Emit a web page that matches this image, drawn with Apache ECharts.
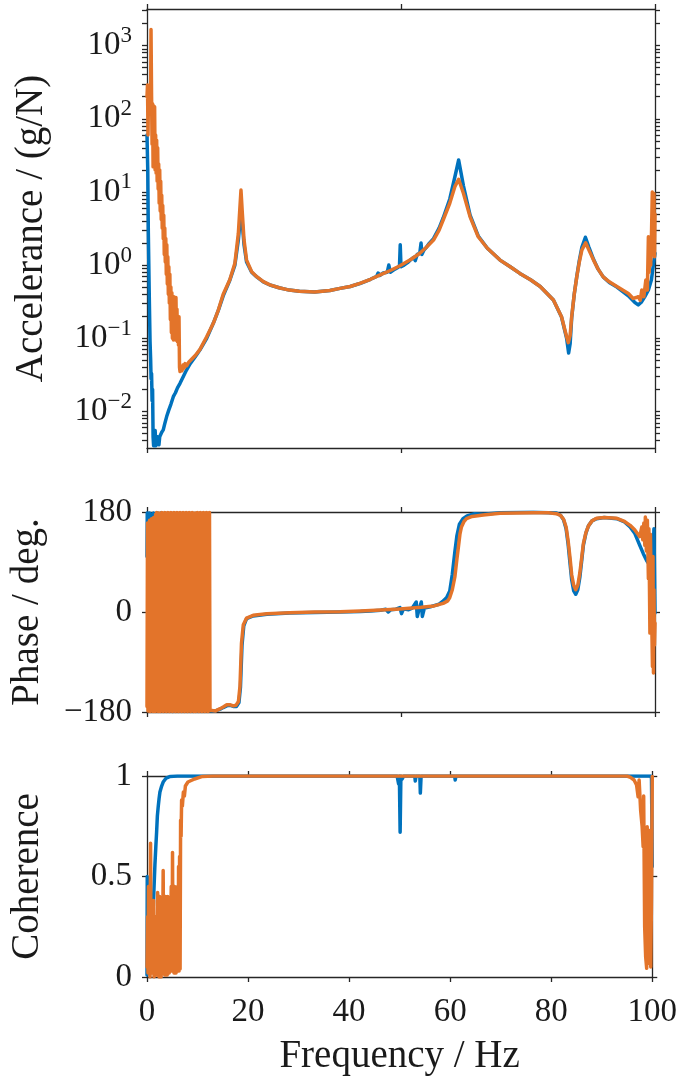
<!DOCTYPE html>
<html><head><meta charset="utf-8">
<script src="https://cdn.jsdelivr.net/npm/echarts@6/dist/echarts.min.js"></script>
<style>html,body{margin:0;padding:0;background:#fff}#c{width:680px;height:1081px}</style>
</head><body><div id="c"></div>
<script>
// ---------- tick values ----------
const freqTicksTop = [0, 50, 100];
const freqTicksBottom = [0, 20, 40, 60, 80, 100];
const magMajorTicks = [0.01, 0.1, 1, 10, 100, 1000];
const magMinorTicks = [0.004,0.005,0.006,0.007,0.008,0.009,
  0.02,0.03,0.04,0.05,0.06,0.07,0.08,0.09,
  0.2,0.3,0.4,0.5,0.6,0.7,0.8,0.9,
  2,3,4,5,6,7,8,9, 20,30,40,50,60,70,80,90,
  200,300,400,500,600,700,800,900, 2000,3000];
const phaseTicks = [-180, 0, 180];
const cohTicks = [0, 0.5, 1];

// ---------- data: [frequency Hz, value] ----------
const magBlue = [[0,60],[0.15,20],[0.26,2.8],[0.46,0.33],[0.6,0.09],[0.72,0.05],[0.8,0.028],[0.9,0.033],[1.0,0.014],[1.1,0.02],[1.2,0.0045],[1.3,0.0034],[1.45,0.0036],[1.6,0.0055],[1.75,0.0034],[1.9,0.0032],[2.05,0.0045],[2.2,0.0038],[2.35,0.0035],[2.5,0.0045],[2.7,0.0043],[2.9,0.0052],[3.2,0.0056],[3.5,0.0068],[3.87,0.0085],[4.3,0.0105],[4.7,0.0125],[5.18,0.0159],[5.6,0.018],[6.0,0.021],[6.5,0.0242],[7.2,0.0305],[7.8,0.037],[8.5,0.045],[9.5,0.056],[10.4,0.069],[11.75,0.1],[13.05,0.16],[14.04,0.24],[15.0,0.38],[16.3,0.62],[17.3,1.0],[17.98,2.2],[18.3,3.8],[18.5,4.6],[18.77,3.6],[19.1,1.9],[19.6,1.1],[20.6,0.8],[21.6,0.69],[22.9,0.59],[24.2,0.535],[26,0.49],[28,0.455],[30,0.44],[33,0.43],[36,0.45],[38,0.48],[40,0.51],[41.9,0.56],[44,0.64],[45.2,0.7],[45.5,0.78],[45.8,0.72],[46.5,0.78],[47.3,0.8],[47.6,1.0],[47.9,0.8],[48.6,0.86],[49.3,0.92],[49.7,0.96],[49.85,1.9],[50.0,0.95],[50.6,1.0],[51.3,1.08],[52,1.2],[52.5,1.28],[52.8,1.15],[53.2,1.4],[53.7,1.45],[53.95,2.0],[54.1,1.4],[54.5,1.6],[55,1.75],[55.6,2.0],[56.4,2.3],[57.5,3.2],[58.3,4.4],[59.6,8.0],[60.6,16],[61.35,27.3],[62.3,12],[63.6,4.8],[65.2,2.5],[67,1.7],[69.5,1.17],[71.5,0.95],[73.4,0.77],[75.5,0.63],[77.4,0.51],[80,0.333],[81.6,0.195],[82.6,0.1],[83.0,0.063],[83.3,0.085],[83.6,0.19],[84.1,0.4],[84.6,0.7],[85.1,1.15],[85.6,1.75],[86.3,2.4],[87.0,1.75],[87.9,1.2],[88.8,0.88],[89.8,0.69],[91,0.58],[92.5,0.5],[94.75,0.38],[96,0.31],[96.7,0.285],[97.3,0.31],[98,0.37],[98.7,0.457],[99.3,0.63],[99.8,1.17],[100,1.45]];

const magOrange = [[0,200],[0.1,289],[0.2,60],[0.3,250],[0.45,120],[0.6,280],[0.7,150],[0.79,1660],[0.9,200],[1.0,45],[1.1,160],[1.2,22],[1.3,150],[1.4,25],[1.5,146],[1.6,20],[1.7,60],[1.8,18],[1.9,51],[2.0,14],[2.1,40],[2.2,11],[2.3,24],[2.4,7],[2.5,20],[2.6,5.5],[2.7,14],[2.8,4.2],[2.9,9],[3.0,3.2],[3.1,6.5],[3.2,2.3],[3.3,4.8],[3.4,1.4],[3.5,3.2],[3.6,1.1],[3.7,2.3],[3.8,0.75],[3.9,1.9],[4.0,0.55],[4.1,1.3],[4.2,0.4],[4.3,0.95],[4.4,0.3],[4.5,0.75],[4.6,0.18],[4.7,0.5],[4.8,0.12],[4.9,0.42],[5.0,0.1],[5.1,0.3],[5.2,0.095],[5.3,0.37],[5.4,0.11],[5.5,0.2],[5.6,0.095],[5.7,0.36],[5.8,0.12],[5.9,0.25],[6.0,0.09],[6.1,0.2],[6.2,0.08],[6.3,0.197],[6.4,0.04],[6.5,0.035],[6.7,0.04],[6.9,0.036],[7.1,0.043],[7.3,0.039],[7.5,0.045],[7.8,0.042],[8.2,0.047],[8.5,0.05],[9.5,0.058],[10.4,0.07],[11.75,0.105],[13.05,0.16],[14.04,0.243],[15.0,0.4],[16.3,0.63],[17.3,1.06],[17.98,2.7],[18.3,6.3],[18.5,10.6],[18.77,5.1],[19.1,2.2],[19.6,1.17],[20.6,0.81],[21.6,0.695],[22.9,0.593],[24.2,0.537],[26,0.49],[28,0.455],[30,0.44],[33,0.43],[36,0.45],[38,0.48],[40,0.51],[41.9,0.563],[44,0.64],[45.9,0.733],[48,0.85],[49.8,0.98],[52,1.2],[53.7,1.45],[55,1.75],[56.4,2.2],[57.5,3.0],[58.3,4.13],[59.6,7.0],[60.6,11.8],[61.35,14.9],[62.3,9.5],[63.6,4.57],[65.2,2.44],[67,1.7],[69.5,1.17],[71.5,0.95],[73.4,0.77],[75.5,0.63],[77.4,0.51],[80,0.333],[81.6,0.197],[82.6,0.105],[82.94,0.087],[83.3,0.11],[83.6,0.197],[84.1,0.4],[84.6,0.69],[85.1,1.1],[85.6,1.6],[86.35,2.02],[87.0,1.6],[87.9,1.17],[88.8,0.88],[89.8,0.69],[91,0.59],[92.5,0.51],[94.75,0.41],[95.7,0.35],[96.3,0.36],[96.7,0.37],[97.1,0.33],[97.4,0.457],[97.8,0.37],[98.2,0.625],[98.5,0.457],[98.7,2.44],[98.85,0.8],[99.0,1.6],[99.15,1.0],[99.3,2.4],[99.47,10],[99.6,1.4],[99.8,9.5],[99.9,1.3],[100,5]];

const phaseBlue = [[0,100],[0.05,178],[0.3,174],[0.5,178],[0.7,168],[0.9,176],[1.1,165],[1.3,178],[1.44,-116],[1.5,-178],[1.7,175],[1.9,165],[2.1,178],[2.3,-135],[2.4,-178],[2.6,172],[2.8,178],[2.95,-140],[3.05,-176],[3.3,175],[3.6,178],[3.9,170],[4.2,177],[4.5,-178],[4.92,-158],[5.1,-179],[5.9,-176],[6.5,-178],[8,-177],[10,-178],[12,-177],[12.5,-178],[13.5,-178],[14.4,-175],[15,-172],[15.7,-169],[16.4,-168],[17,-170],[17.6,-170],[18.1,-163],[18.4,-135],[18.7,-60],[19.05,-25],[19.6,-12],[20.9,-7],[23.6,-4],[28.1,-2],[33,-0.8],[38,0],[42,1],[44,2],[46,3],[47,5],[47.5,0],[48,4],[49,5],[49.8,8],[50.1,-3],[50.5,6],[51.5,4],[52.2,7],[53.0,18],[53.2,-8],[53.6,6],[54.0,18],[54.2,-8],[54.6,7],[56,10],[57.5,14],[58.2,19],[59.0,26],[59.6,38],[60.1,68],[60.6,108],[61.0,137],[61.5,158],[62.2,168],[63,173],[64.5,177],[66.2,176],[69.5,178.5],[76,179.5],[80.6,178],[81.4,174],[82,166],[82.5,150],[82.9,122],[83.3,85],[83.6,58],[84.0,38],[84.4,32],[84.8,40],[85.2,62],[85.6,95],[85.9,120],[86.4,142],[86.9,155],[87.6,164],[88.5,168],[90,170],[92.5,168],[94,162],[95.1,153],[96,142],[97,120],[97.7,105],[98.4,92],[99,84],[99.6,105],[99.8,150],[100,-2]];

const phaseOrange = [[0,-170],[0.1,160],[0.2,-178],[0.3,150],[0.4,-176],[0.5,165],[0.6,-179],[0.7,140],[0.8,-178],[0.9,168],[1.0,-177],[1.1,152],[1.2,-179],[1.3,170],[1.4,-176],[1.5,158],[1.6,-179],[1.7,176],[1.8,-178],[1.9,179],[2.0,-177],[2.1,170],[2.2,-179],[2.3,178],[2.4,-178],[2.5,176],[2.6,-179],[2.7,178],[2.8,-177],[2.9,179],[3.0,-178],[3.1,177],[3.2,-179],[3.3,176],[3.4,-178],[3.5,179],[3.6,-176],[3.7,178],[3.8,-179],[3.9,177],[4.0,-178],[4.1,179],[4.2,-177],[4.3,178],[4.4,-179],[4.5,176],[4.6,-178],[4.7,179],[4.8,-177],[4.9,178],[5.0,-179],[5.1,177],[5.2,-178],[5.3,179],[5.4,-176],[5.5,178],[5.6,-179],[5.7,177],[5.8,-178],[5.9,179],[6.0,-177],[6.1,178],[6.2,-179],[6.3,176],[6.4,-178],[6.5,179],[6.6,-177],[6.7,178],[6.8,-179],[6.9,177],[7.0,-178],[7.1,179],[7.2,-176],[7.3,178],[7.4,-179],[7.5,177],[7.6,-178],[7.7,179],[7.8,-177],[7.9,178],[8.0,-179],[8.1,176],[8.2,-178],[8.3,179],[8.4,-177],[8.5,178],[8.6,-179],[8.7,177],[8.8,-178],[8.9,179],[9.0,-176],[9.1,178],[9.2,-179],[9.3,177],[9.4,-40],[9.5,178],[9.6,-179],[9.7,176],[9.8,-178],[9.9,179],[10.0,-177],[10.1,178],[10.2,-179],[10.3,177],[10.4,-178],[10.5,179],[10.6,-176],[10.7,178],[10.8,-179],[10.9,177],[11.0,-178],[11.1,179],[11.2,-177],[11.3,178],[11.4,-179],[11.5,176],[11.6,-178],[11.7,179],[11.8,-177],[11.9,178],[12.0,-179],[12.1,177],[12.2,-178],[12.3,179],[12.4,-177],[13.5,-178],[14.4,-174],[15,-171],[15.7,-167],[16.4,-167],[17,-169],[17.5,-168],[18,-161],[18.3,-134],[18.6,-56],[18.96,-23],[19.6,-11],[20.9,-6],[23.6,-3],[28.1,-1.2],[33,0],[38,0.6],[42,2],[46,3.5],[49.8,5.5],[54,8.5],[56.5,11],[58.3,15.6],[59.2,20],[59.6,26],[60.1,40],[60.6,63],[61.0,95],[61.3,117],[61.6,140],[61.9,153],[62.4,163],[62.9,168],[64,172],[66.2,174.6],[69.5,177.6],[76,178.8],[79,178.5],[80.6,177],[81.4,174],[82,167],[82.5,153],[82.9,128],[83.3,95],[83.6,67],[84.0,48],[84.4,40],[84.8,48],[85.2,70],[85.6,100],[85.9,123],[86.4,143],[86.9,155],[87.6,164],[88.5,168.6],[90,170],[92.5,168.6],[94,163],[95.1,156],[96,148],[97,135.6],[97.4,153],[97.6,130],[97.8,160],[98.0,120],[98.1,171],[98.3,110],[98.5,165],[98.7,60],[98.8,150],[99.0,-38],[99.1,140],[99.3,20],[99.5,-98],[99.6,100],[99.7,-110],[99.8,40],[99.9,-60],[100,-20]];

const cohBlue = [[0,0.01],[0.05,0.5],[0.15,0.42],[0.25,0.45],[0.35,0.03],[0.5,0.02],[0.7,0.03],[0.9,0.12],[1.12,0.27],[1.35,0.42],[1.57,0.56],[1.75,0.65],[1.9,0.72],[2.05,0.8],[2.23,0.85],[2.4,0.89],[2.56,0.92],[2.9,0.95],[3.2,0.97],[3.8,0.99],[4.5,0.997],[6,1],[49.5,1],[49.8,0.96],[49.95,1],[50.1,0.72],[50.25,1],[50.5,0.985],[50.8,1],[53.0,1],[53.1,0.975],[53.25,1],[54.0,1],[54.1,0.915],[54.25,1],[60.9,1],[61.0,0.98],[61.15,1],[99.7,1],[99.85,0.99],[100,0.55]];

const cohOrange = [[0,0.05],[0.1,0.3],[0.2,0.02],[0.3,0.45],[0.4,0.05],[0.5,0.25],[0.6,0.0],[0.7,0.665],[0.8,0.1],[0.9,0.35],[1.0,0.02],[1.1,0.3],[1.2,0.05],[1.3,0.38],[1.4,0.0],[1.5,0.22],[1.6,0.02],[1.7,0.3],[1.8,0.08],[1.9,0.25],[2.0,0.01],[2.1,0.42],[2.2,0.03],[2.3,0.25],[2.4,0.0],[2.5,0.4],[2.6,0.02],[2.7,0.3],[2.8,0.0],[2.9,0.35],[3.0,0.05],[3.1,0.2],[3.2,0.53],[3.3,0.02],[3.4,0.3],[3.5,0.01],[3.6,0.25],[3.7,0.4],[3.8,0.05],[3.9,0.25],[4.0,0.01],[4.1,0.4],[4.2,0.03],[4.3,0.35],[4.4,0.02],[4.5,0.3],[4.6,0.05],[4.7,0.28],[4.8,0.45],[4.9,0.03],[5.0,0.3],[5.05,0.62],[5.15,0.05],[5.25,0.35],[5.35,0.02],[5.45,0.45],[5.55,0.04],[5.65,0.4],[5.75,0.02],[5.85,0.3],[5.95,0.05],[6.05,0.45],[6.15,0.03],[6.25,0.55],[6.35,0.03],[6.45,0.6],[6.55,0.04],[6.65,0.78],[6.75,0.7],[6.85,0.88],[7.0,0.85],[7.2,0.92],[7.4,0.9],[7.6,0.95],[8.1,0.97],[9.4,0.985],[11,0.998],[13,1],[95,1],[95.7,0.993],[96.4,0.98],[96.9,0.955],[97.2,0.897],[97.4,0.98],[97.7,0.831],[98.0,0.748],[98.2,0.648],[98.3,0.9],[98.5,0.25],[98.7,0.1],[98.9,0.043],[99.0,0.748],[99.1,0.085],[99.3,0.73],[99.4,0.068],[99.6,0.715],[99.7,0.05],[99.85,0.4],[100,0.997]];

// ---------- styling ----------
const FONT = 'Liberation Serif';
const TXT = '#1a1a1a';
const AX = '#262626';
const BLUE = '#0072BD';
const ORANGE = '#E3742A';
const TICK_FS = 33, NAME_FS = 39;

const axisLine = {show: true, onZero: false, lineStyle: {color: AX, width: 1.3}};
const axisTick = (vals) => ({show: true, inside: false, length: 5, lineStyle: {color: AX, width: 1.3}, customValues: vals});
const minus = (v) => String(v).replace('-', '\u2212');

function xAxes(grid, ticks, showLabels) {
  const base = {gridIndex: grid, type: 'value', min: 0, max: 100, splitLine: {show: false}, axisLine: axisLine};
  return [
    Object.assign({}, base, {position: 'bottom', axisTick: axisTick(ticks),
      axisLabel: {show: showLabels, customValues: ticks, margin: 19, fontFamily: FONT, fontSize: TICK_FS, color: TXT},
      name: showLabels ? 'Frequency / Hz' : '', nameLocation: 'middle', nameGap: 60,
      nameTextStyle: {fontFamily: FONT, fontSize: NAME_FS, color: TXT}}),
    Object.assign({}, base, {position: 'top', axisTick: axisTick(ticks), axisLabel: {show: false}})
  ];
}

function yAxes(grid, cfg) {
  const base = Object.assign({gridIndex: grid, splitLine: {show: false}, axisLine: axisLine}, cfg.scale);
  return [
    Object.assign({}, base, {position: 'left', axisTick: axisTick(cfg.ticks),
      axisLabel: Object.assign({show: true, customValues: cfg.labels, margin: 15, fontFamily: FONT, fontSize: TICK_FS, color: TXT}, cfg.label || {}),
      name: cfg.name, nameLocation: 'middle', nameGap: cfg.gap, nameRotate: 90,
      nameTextStyle: {fontFamily: FONT, fontSize: NAME_FS, color: TXT}}),
    Object.assign({}, base, {position: 'right', axisTick: axisTick(cfg.ticks), axisLabel: {show: false}})
  ];
}

const logLabel = {
  formatter: function (v) {
    const e = Math.round(Math.log10(v));
    return '{b|10}{e|' + minus(e) + '}';
  },
  rich: {
    b: {fontFamily: FONT, fontSize: TICK_FS, color: TXT, lineHeight: 42},
    e: {fontFamily: FONT, fontSize: 23, color: TXT, lineHeight: 23, verticalAlign: 'top'}
  }
};

const option = {
  animation: false,
  backgroundColor: '#ffffff',
  grid: [
    {left: 147, right: 25, top: 9, height: 439},
    {left: 147, right: 25, top: 512, height: 200},
    {left: 147, right: 25, top: 776, height: 201}
  ],
  xAxis: [].concat(xAxes(0, freqTicksTop, false), xAxes(1, freqTicksTop, false), xAxes(2, freqTicksBottom, true)),
  yAxis: [].concat(
    yAxes(0, {scale: {type: 'log', logBase: 10, min: 0.0031623, max: 3162.3}, ticks: magMajorTicks.concat(magMinorTicks), labels: magMajorTicks, label: logLabel, name: 'Accelerance / (g/N)', gap: 96}),
    yAxes(1, {scale: {type: 'value', min: -180, max: 180, interval: 180}, ticks: phaseTicks, labels: phaseTicks, label: {formatter: minus}, name: 'Phase / deg.', gap: 100}),
    yAxes(2, {scale: {type: 'value', min: 0, max: 1, interval: 0.5}, ticks: cohTicks, labels: cohTicks, name: 'Coherence', gap: 100})
  ),
  series: []
};

function line(name, data, xi, yi, color) {
  return {name: name, type: 'line', data: data, xAxisIndex: xi, yAxisIndex: yi, showSymbol: false, symbol: 'none',
    clip: true, lineStyle: {color: color, width: 3.5, join: 'round', cap: 'round'}, itemStyle: {color: color}, emphasis: {disabled: true}};
}
option.series.push(line('mag1', magBlue, 0, 0, BLUE));
option.series.push(line('mag2', magOrange, 0, 0, ORANGE));
option.series.push(line('ph1', phaseBlue, 2, 2, BLUE));
option.series.push(line('ph2', phaseOrange, 2, 2, ORANGE));
option.series.push(line('coh1', cohBlue, 4, 4, BLUE));
option.series.push(line('coh2', cohOrange, 4, 4, ORANGE));

const chart = echarts.init(document.getElementById('c'), null, {renderer: 'canvas'});
chart.setOption(option);
</script>
</body></html>
